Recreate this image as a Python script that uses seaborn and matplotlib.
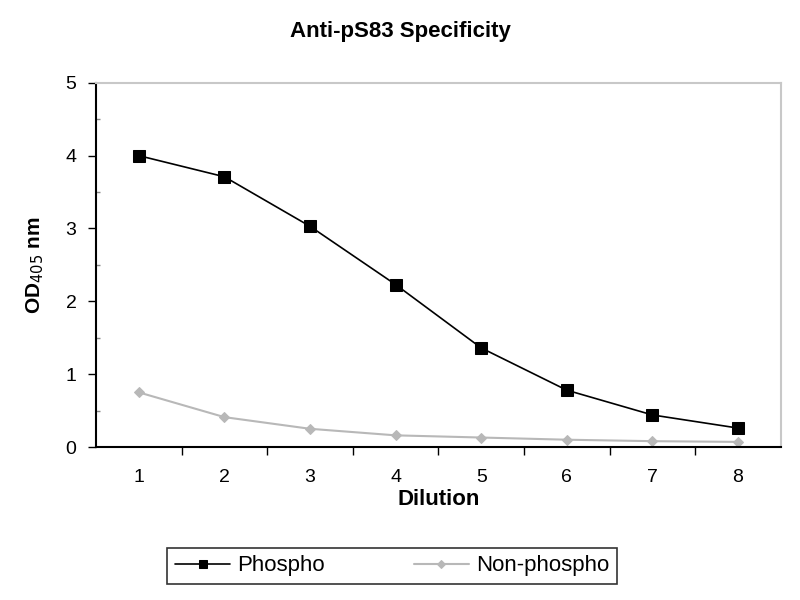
import numpy as np
import matplotlib
matplotlib.use("Agg")
import matplotlib.pyplot as plt
import pandas as pd
import seaborn as sb

dilution = [1, 2, 3, 4, 5, 6, 7, 8]
phospho = [4.0, 3.71, 3.03, 2.23, 1.36, 0.78, 0.44, 0.26]
non_phospho = [0.75, 0.41, 0.25, 0.16, 0.13, 0.10, 0.08, 0.07]

df = pd.DataFrame({"Dilution": dilution, "Phospho": phospho, "Non-phospho": non_phospho})

sb.set_style("white")
plt.rcParams['font.family'] = ['Liberation Sans', 'DejaVu Sans']
plt.rcParams['text.color'] = 'black'
plt.rcParams['axes.labelcolor'] = 'black'
plt.rcParams['xtick.color'] = 'black'
plt.rcParams['ytick.color'] = 'black'

fig = plt.figure(figsize=(8, 6), dpi=100)
ax = fig.add_axes([0.12, 0.255, 0.856, 0.607])

sb.lineplot(data=df, x="Dilution", y="Phospho", ax=ax, color="black", marker="s",
            markersize=8, markeredgecolor="black", linewidth=1.2, label="Phospho")
sb.lineplot(data=df, x="Dilution", y="Non-phospho", ax=ax, color="#b8b8b8", marker="D",
            markersize=5, markeredgecolor="#b8b8b8", linewidth=1.5, label="Non-phospho")

ax.set_xlim(0.5, 8.5)
ax.set_ylim(0, 5)
ax.set_xticks(dilution)
ax.set_xticks(np.arange(1.5, 8.5, 1), minor=True)
ax.set_yticks(range(0, 6))
ax.set_yticks(np.arange(0.5, 5, 1), minor=True)
ax.tick_params(axis="x", which="major", length=0, labelsize=14, pad=16)
ax.tick_params(axis="x", which="minor", length=6, width=1, direction="out", color="black")
ax.tick_params(axis="y", which="major", length=6, width=1, direction="out", color="black",
               labelsize=14, pad=8)
ax.tick_params(axis="y", which="minor", length=3, width=1, direction="in", color="#888888")
ax.tick_params(left=True, bottom=True, which="both")

for side in ["left", "bottom"]:
    ax.spines[side].set_color("black")
    ax.spines[side].set_linewidth(1.5)
for side in ["top", "right"]:
    ax.spines[side].set_color("#c8c8c8")
    ax.spines[side].set_linewidth(1.5)

ax.set_xlabel("Dilution", fontsize=16, fontweight="bold", labelpad=2)
ax.set_ylabel("OD$_{405}$ nm", fontsize=15, fontweight="bold", labelpad=14)
fig.suptitle("Anti-pS83 Specificity", x=0.5, y=0.965, fontsize=16, fontweight="bold")

ax.get_legend().remove()
handles, labels = ax.get_legend_handles_labels()
leg = fig.legend(handles, labels, loc="center", bbox_to_anchor=(0.49, 0.057), ncol=2,
                 fontsize=16, frameon=True, fancybox=False, edgecolor="black",
                 columnspacing=4, handlelength=2.5, handletextpad=0.3, borderpad=0.35,
                 markerscale=0.8)
leg.get_frame().set_linewidth(1.2)

fig.savefig("out.png", dpi=100)
